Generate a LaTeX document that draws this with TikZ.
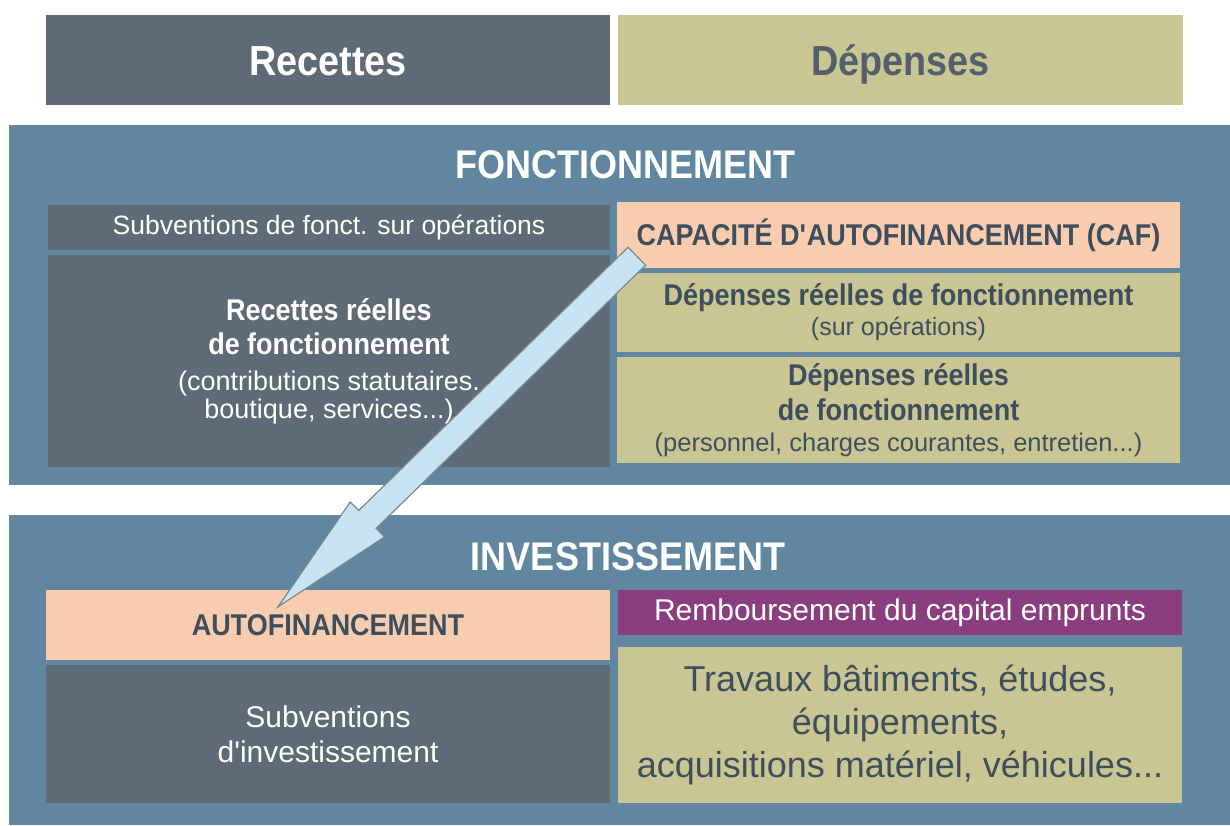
\documentclass[tikz,border=0pt]{standalone}
\usepackage{fontspec}
\setmainfont{Liberation Sans}[BoldFeatures={FakeStretch=0.9}]
\usetikzlibrary{calc}

\definecolor{slate}{RGB}{95,106,119}
\definecolor{khaki}{RGB}{201,198,148}
\definecolor{panelblue}{RGB}{96,134,160}
\definecolor{peach}{RGB}{248,205,175}
\definecolor{plum}{RGB}{139,62,127}
\definecolor{ink}{RGB}{62,78,92}
\definecolor{arrowfill}{RGB}{200,228,243}
\definecolor{arrowline}{RGB}{125,135,145}

\newcommand{\bfline}[1]{{\fontsize{30}{34}\selectfont\bfseries #1}}

\begin{document}
\begin{tikzpicture}[x=1pt,y=-1pt,
    rbox/.style={fill=slate, text=white, minimum width=562pt, align=center, inner sep=0pt},
    dbox/.style={fill=khaki, text=ink, minimum width=563pt, align=center, inner sep=0pt},
    section/.style={fill=panelblue, minimum width=1221pt, inner sep=0pt},
    heading/.style={text=white, inner sep=0pt, font=\fontsize{40}{46}\selectfont\bfseries},
    header/.style={minimum height=90pt, text height=30pt, text depth=0pt, font=\fontsize{42}{48}\selectfont\bfseries}]
        \useasboundingbox (0,0) rectangle (1230,825);
        % Header
        \node[rbox, header, minimum width=564pt] (rec) at (328,60) {Recettes};
        \node[dbox, header, minimum width=565pt, text=ink!90] (dep) at (900.5,60) {Dépenses};
        % Fonctionnement
        \node[section, minimum height=360pt] (fonct) at (619.5,305) {};
        \node[heading] (fonctT) at (625,164.5) {FONCTIONNEMENT};
        \node[rbox, minimum height=45pt, font=\fontsize{26.5}{30}\selectfont] (subf) at (329,227.5) {Subventions de fonct. sur opérations};
        \node[rbox, minimum height=212pt, font=\fontsize{27}{28}\selectfont] (rrf) at (329,361)
            {\bfline{Recettes réelles}\\[6pt] \bfline{de fonctionnement}\\[8pt] (contributions statutaires.\\ boutique, services...)};
        \node[dbox, fill=peach, minimum height=66pt, font=\fontsize{30}{34}\selectfont\bfseries] (caf) at (898.5,235) {CAPACITÉ D\textquotesingle AUTOFINANCEMENT (CAF)};
        \node[dbox, minimum height=79pt, font=\fontsize{25}{30}\selectfont] (drf1) at (898.5,312.5)
            {\bfline{Dépenses réelles de fonctionnement}\\ (sur opérations)};
        \node[dbox, minimum height=106pt, font=\fontsize{25.5}{31}\selectfont] (drf2) at (898.5,410)
            {\bfline{Dépenses réelles}\\[4pt] \bfline{de fonctionnement}\\ (personnel, charges courantes, entretien...)};
        % Investissement
        \node[section, minimum height=310pt] (invest) at (619.5,670) {};
        \node[heading] (investT) at (628,557) {INVESTISSEMENT};
        \node[rbox, fill=peach, text=ink, minimum width=564pt, minimum height=70pt, font=\fontsize{30}{34}\selectfont\bfseries] (autof) at (328,625) {AUTOFINANCEMENT};
        \node[rbox, minimum width=564pt, minimum height=138pt, font=\fontsize{30}{35}\selectfont] (subi) at (328,734) {Subventions\\ d\textquotesingle investissement};
        \node[dbox, fill=plum, text=white, minimum width=564pt, minimum height=45pt, font=\fontsize{30}{34}\selectfont] (remb) at (900,612.5) {Remboursement du capital emprunts};
        \node[dbox, minimum width=564pt, minimum height=156pt, font=\fontsize{36}{43}\selectfont] (trav) at (900,725)
            {Travaux bâtiments, études,\\ équipements,\\ acquisitions matériel, véhicules...};
        % Arrow
        \coordinate (tail) at ($(caf.south west)+(20,-12)$);
        \coordinate (tip) at ($(autof.north)+(-50,17)$);
        \coordinate (base) at ($(tip)!125pt!(tail)$);
        \filldraw[fill=arrowfill, draw=arrowline, line width=1.2pt]
            ($(tail)!12.5pt!90:(tip)$) -- ($(base)!12.5pt!90:(tip)$) -- ($(base)!24.5pt!90:(tip)$) -- (tip)
            -- ($(base)!24.5pt!-90:(tip)$) -- ($(base)!12.5pt!-90:(tip)$) -- ($(tail)!12.5pt!-90:(tip)$) -- cycle;

    \end{tikzpicture}
\end{document}
